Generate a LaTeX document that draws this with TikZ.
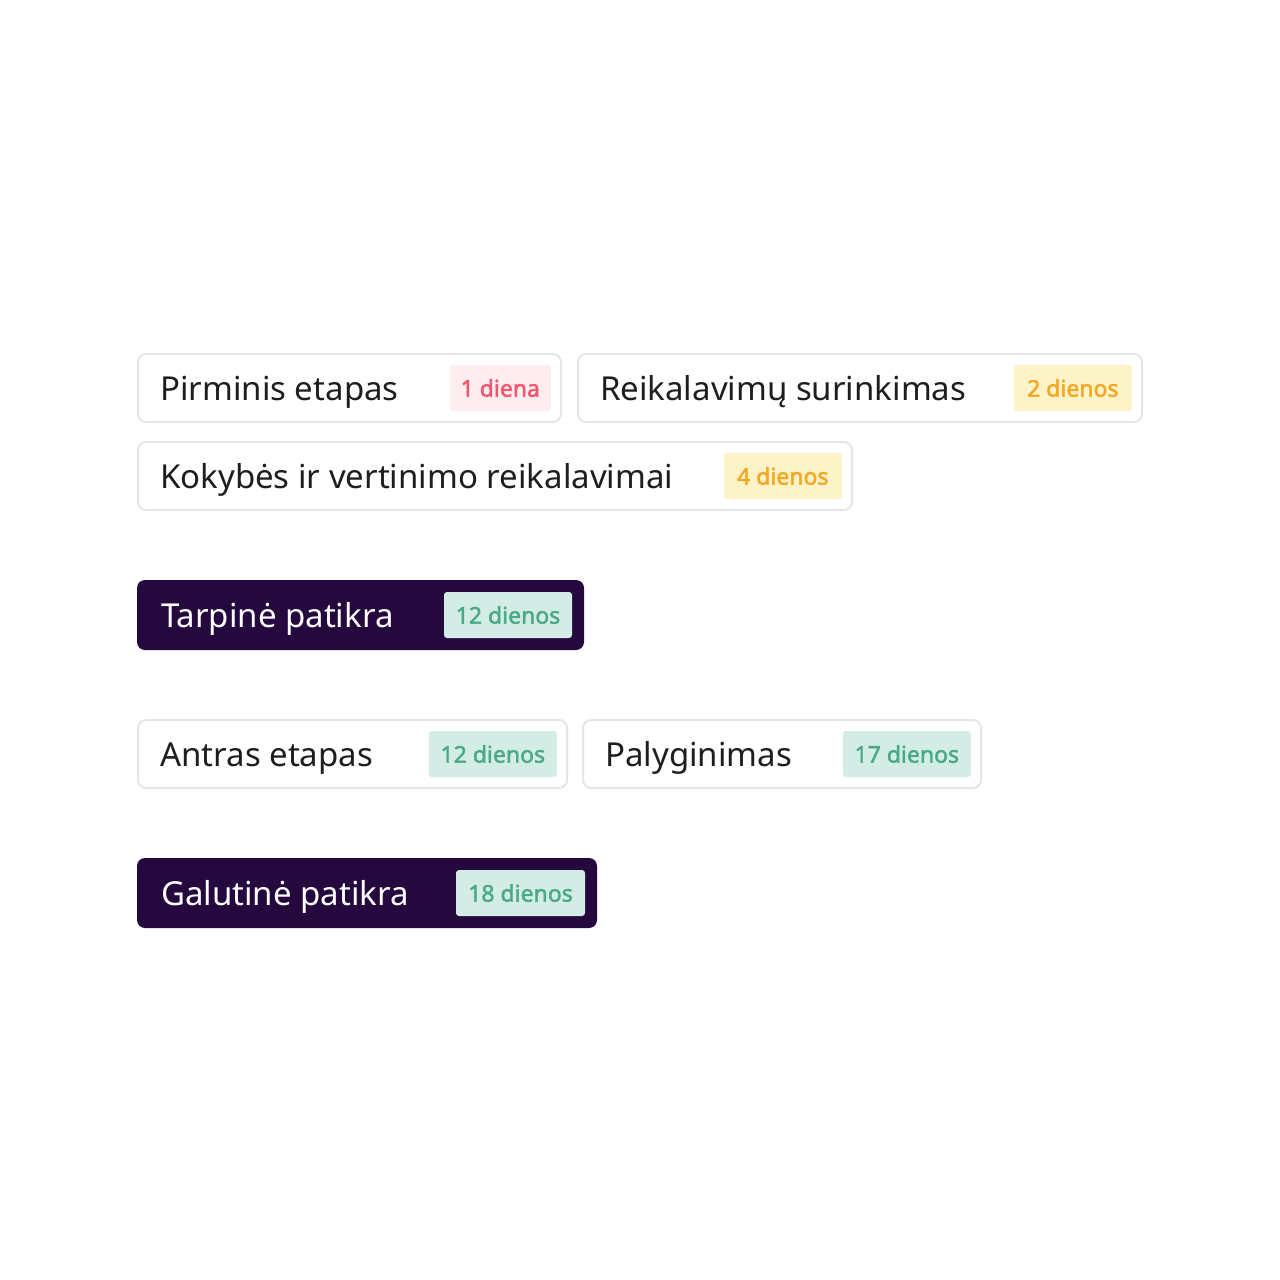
\documentclass[tikz,border=0pt]{standalone}
\usepackage{fontspec}
\setmainfont{Noto Sans}
\newfontfamily\badgefont[FakeBold=2]{Noto Sans}
\definecolor{ink}{HTML}{1E1E1E}
\definecolor{night}{HTML}{24083E}
\definecolor{rim}{HTML}{E6E6E6}
\definecolor{rosebg}{HTML}{FFEDF0}
\definecolor{rosefg}{HTML}{F5566E}
\definecolor{sandbg}{HTML}{FCF4C8}
\definecolor{sandfg}{HTML}{F6A623}
\definecolor{mintbg}{HTML}{D3EDE6}
\definecolor{mintfg}{HTML}{4BAA86}
\tikzset{
    pill/.style ={rectangle,rounded corners=8pt,draw=rim,line width=2pt,fill=white,minimum height=68pt},
    darkpill/.style ={rectangle,rounded corners=8pt,fill=night,minimum height=70pt},
    title/.style ={anchor=base west,inner sep=0pt,font=\fontsize{33}{38}\selectfont,text=ink},
    darktitle/.style ={title,text=white},
    badge/.style ={anchor=east,rectangle,rounded corners=3pt,minimum height=46pt,inner sep=0pt,font=\badgefont\fontsize{23}{26}\selectfont},
    rose/.style ={badge,fill=rosebg,text=rosefg},
    sand/.style ={badge,fill=sandbg,text=sandfg},
    mint/.style ={badge,fill=mintbg,text=mintfg}}
\begin{document}
\begin{tikzpicture}[x=1pt,y=-1pt]
        \useasboundingbox[fill=white] (0,0) rectangle (1280,1280);
        % first row
        \node[pill,minimum width=423pt] (pirm) at (349.5,388){};
        \node[title] (pirmT) at ([xshift=23pt,yshift=-12pt]pirm.west){Pirminis etapas};
        \node[rose,minimum width=101pt] (pirmB) at ([xshift=-11pt]pirm.east){1 diena};
        \node[pill,minimum width=564pt] (reik) at (860,388){};
        \node[title] (reikT) at ([xshift=23pt,yshift=-12pt]reik.west){Reikalavimų surinkimas};
        \node[sand,minimum width=118pt] (reikB) at ([xshift=-11pt]reik.east){2 dienos};
        \node[pill,minimum width=714pt] (koky) at (495,476){};
        \node[title] (kokyT) at ([xshift=23pt,yshift=-12pt]koky.west){Kokybės ir vertinimo reikalavimai};
        \node[sand,minimum width=118pt] (kokyB) at ([xshift=-11pt]koky.east){4 dienos};
        % tarpine
        \node[darkpill,minimum width=447pt] (tarp) at (360.5,615){};
        \node[darktitle] (tarpT) at ([xshift=24pt,yshift=-12pt]tarp.west){Tarpinė patikra};
        \node[mint,minimum width=128pt] (tarpB) at ([xshift=-12pt]tarp.east){12 dienos};
        % second row
        \node[pill,minimum width=429pt] (antr) at (352.5,754){};
        \node[title] (antrT) at ([xshift=23pt,yshift=-12pt]antr.west){Antras etapas};
        \node[mint,minimum width=128pt] (antrB) at ([xshift=-11pt]antr.east){12 dienos};
        \node[pill,minimum width=398pt] (paly) at (782,754){};
        \node[title] (palyT) at ([xshift=23pt,yshift=-12pt]paly.west){Palyginimas};
        \node[mint,minimum width=128pt] (palyB) at ([xshift=-11pt]paly.east){17 dienos};
        % galutine
        \node[darkpill,minimum width=460pt] (galu) at (367,893){};
        \node[darktitle] (galuT) at ([xshift=24pt,yshift=-12pt]galu.west){Galutinė patikra};
        \node[mint,minimum width=129pt] (galuB) at ([xshift=-12pt]galu.east){18 dienos};
    \end{tikzpicture}
\end{document}
